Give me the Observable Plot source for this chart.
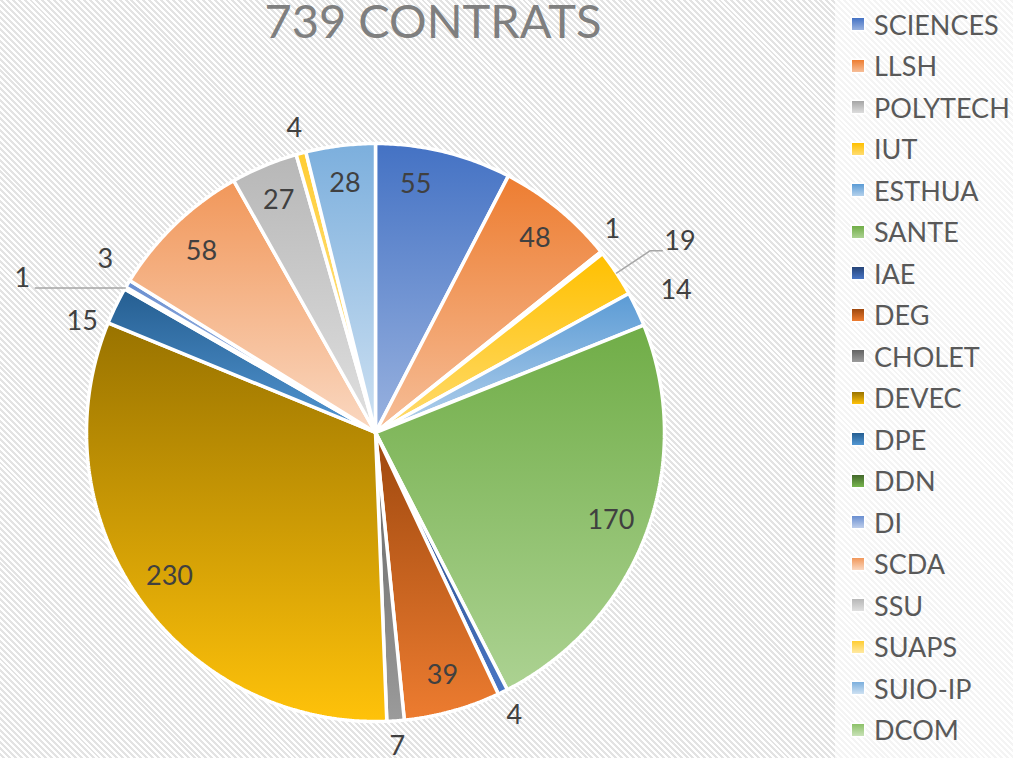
<!DOCTYPE html>
<html><head><meta charset="utf-8">
<script src="https://cdn.jsdelivr.net/npm/d3@7"></script>
<script src="https://cdn.jsdelivr.net/npm/@observablehq/plot@0.6"></script>
<style>
html,body{margin:0;padding:0;background:#fff;}
#wrap{position:relative;width:1013px;height:758px;overflow:hidden;
  background:repeating-linear-gradient(45deg,#ffffff 0px,#ffffff 2.1px,#e3e3e3 2.1px,#e3e3e3 4.2px);
  font-family:Lato,"Open Sans",sans-serif;}
#chart{position:absolute;left:0;top:0;}
#title{position:absolute;left:0;width:866px;top:2px;text-align:center;font-size:47px;font-weight:400;color:#7f7f7f;line-height:0.8;}
#legend{position:absolute;left:835px;top:0;width:178px;height:758px;background:rgba(255,255,255,0.62);}
.item{position:absolute;left:0;height:40px;display:flex;align-items:center;}
.sw{width:12px;height:12px;margin-left:17px;margin-right:10px;box-shadow:0 0 0 1.5px #fff;}
.lb{font-size:27px;color:#595959;white-space:nowrap;}
</style></head>
<body>
<div id="wrap">
  <div id="chart"></div>
  <div id="title"></div>
  <div id="legend"></div>
</div>
<script>
// ---- data ----
const titleText = "739 CONTRATS";
const categories = ["SCIENCES","LLSH","POLYTECH","IUT","ESTHUA","SANTE","IAE","DEG","CHOLET","DEVEC","DPE","DDN","DI","SCDA","SSU","SUAPS","SUIO-IP","DCOM"];
const values = [55,48,1,19,14,170,4,39,7,230,15,1,3,58,27,4,28,0];
const colors = ["#4472C4","#ED7D31","#A5A5A5","#FFC000","#5B9BD5","#70AD47","#264478","#9E480E","#636363","#997300","#255E91","#43682B","#698ED0","#F1975A","#B7B7B7","#FFCD33","#7CAFDD","#8CC168"];

// ---- layout ----
const W = 1013, H = 758, CX = 375, CY = 432, R = 289;
const px = 1 / R;
const deg = Math.PI / 180;
const labelR = {inside: 0.87, outside: 1.09};
// label placement nudges (angle in degrees, radius as fraction of pie radius)
const labelAdjust = {
  SCIENCES: {da: -4.5},
  POLYTECH: {da: -2.2, r: 1.08},
  ESTHUA: {r: 1.15},
  DPE: {da: -5.3, r: 1.085},
  DI: {da: 1.6, r: 1.11}
};
const leaders = [
  {cat: "IUT", elbow: 1.14, run: 12, anchor: "start"},
  {cat: "DDN", elbow: 1.0, run: -90, anchor: "end"}
];

function lighter(c) { const h = d3.hsl(c); h.l = Math.min(0.88, h.l + 0.22); return h.formatHex(); }

const rows = categories.map((c, i) => ({cat: c, value: values[i], i}));
const arcs = d3.pie().sort(null).value(d => d.value)(rows);
const pol = (a, r) => ({x: r * Math.sin(a), y: r * Math.cos(a)});

// slice polygons
const polys = [];
for (const a of arcs) {
  if (a.data.value <= 0) continue;
  polys.push({cat: a.data.cat, x: 0, y: 0});
  const n = Math.max(2, Math.ceil((a.endAngle - a.startAngle) / (Math.PI / 360)));
  for (let k = 0; k <= n; k++) {
    const t = a.startAngle + (a.endAngle - a.startAngle) * k / n;
    polys.push({cat: a.data.cat, ...pol(t, 1)});
  }
}

// labels
const leaderMap = new Map(leaders.map(l => [l.cat, l]));
const labels = [], leaderPts = [];
for (const a of arcs) {
  if (a.data.value <= 0) continue;
  const mid = (a.startAngle + a.endAngle) / 2;
  const c = a.data.cat;
  if (leaderMap.has(c)) {
    const L = leaderMap.get(c);
    const s = pol(mid, 1.0), e = pol(mid, L.elbow);
    const f = {x: e.x + L.run * px, y: e.y};
    leaderPts.push({cat: c, ...s}, {cat: c, ...e}, {cat: c, ...f});
    labels.push({text: String(a.data.value), x: f.x, y: f.y, anchor: L.anchor});
  } else {
    const adj = labelAdjust[c] || {};
    const r = adj.r ?? (a.data.value >= 20 ? labelR.inside : labelR.outside);
    const p = pol(mid + (adj.da || 0) * deg, r);
    labels.push({text: String(a.data.value), x: p.x, y: p.y, anchor: "middle"});
  }
}

const offs = {start: [2, -9], middle: [0, 0], end: [-5, -10]};

const chart = Plot.plot({
  width: W, height: H,
  margin: 0,
  style: {background: "transparent", overflow: "visible"},
  x: {axis: null, domain: [-CX * px, (W - CX) * px]},
  y: {axis: null, domain: [-(H - CY) * px, CY * px]},
  color: {domain: categories, range: categories.map((c, i) => `url(#grad${i})`)},
  marks: [
    Plot.line(polys, {x: "x", y: "y", z: "cat", fill: "cat", stroke: "white", strokeWidth: 3.5, strokeLinejoin: "miter", curve: "linear-closed"}),
    Plot.line(leaderPts, {x: "x", y: "y", z: "cat", stroke: "#a6a6a6", strokeWidth: 1.5}),
    ...Object.keys(offs).map(an => Plot.text(labels.filter(d => d.anchor === an), {
      x: "x", y: "y", text: "text", textAnchor: an,
      dx: offs[an][0], dy: offs[an][1],
      fontSize: 27, fill: "#404040", fontFamily: "Lato, 'Open Sans', sans-serif"
    }))
  ]
});

// gradients
const defs = document.createElementNS("http://www.w3.org/2000/svg", "defs");
defs.innerHTML = colors.map((c, i) =>
  `<linearGradient id="grad${i}" x1="0" y1="0" x2="0" y2="1"><stop offset="0" stop-color="${c}"/><stop offset="1" stop-color="${lighter(c)}"/></linearGradient>`).join("");
chart.insertBefore(defs, chart.firstChild);
document.getElementById("chart").appendChild(chart);
document.getElementById("title").textContent = titleText;

// legend
const leg = document.getElementById("legend");
categories.forEach((c, i) => {
  const it = document.createElement("div");
  it.className = "item";
  it.style.top = (25 + i * 41.5 - 21) + "px";
  it.innerHTML = `<div class="sw" style="background:linear-gradient(${colors[i]},${lighter(colors[i])})"></div><div class="lb">${c}</div>`;
  leg.appendChild(it);
});
</script>
</body></html>
